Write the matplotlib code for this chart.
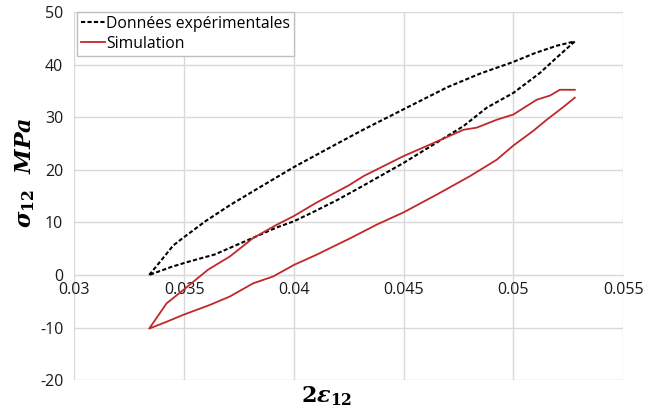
import matplotlib
matplotlib.use("Agg")
import matplotlib.pyplot as plt

# experimental loop (black dashed): upper branch then lower branch back
exp_x = [0.03341, 0.0340, 0.0345, 0.0350, 0.0360, 0.0371, 0.0383, 0.0400, 0.0419,
         0.0432, 0.0450, 0.0470, 0.0485, 0.0500, 0.0510, 0.0520, 0.0528,
         0.05197, 0.05121, 0.0500, 0.04879, 0.04773, 0.04652, 0.0450, 0.0430,
         0.0420, 0.0410, 0.0400, 0.0392, 0.0380, 0.0364, 0.0351, 0.0344, 0.03341]
exp_y = [0.0, 3.0, 5.6, 7.2, 10.3, 13.3, 16.3, 20.5, 24.8,
         27.7, 31.5, 35.7, 38.3, 40.5, 42.2, 43.6, 44.4,
         41.3, 38.4, 34.6, 31.8, 28.3, 25.2, 21.3, 16.6,
         14.3, 12.2, 10.2, 9.0, 6.8, 3.9, 2.4, 1.5, 0.0]

# simulation (red): lower branch from right end to the tip, then upper branch
sim_x = [0.0528, 0.05227, 0.05152, 0.05091, 0.0500, 0.04924, 0.04803,
         0.04652, 0.0450, 0.04379, 0.04258, 0.04101, 0.0400, 0.03905, 0.03814,
         0.03708, 0.03617, 0.03495, 0.0342, 0.03341,
         0.0342, 0.03495, 0.03609, 0.03708, 0.03814, 0.0392, 0.0400, 0.04101,
         0.04253, 0.04318, 0.0450, 0.04621, 0.04773, 0.04833, 0.04924, 0.0500,
         0.05106, 0.05167, 0.05212, 0.0528]
sim_y = [33.7, 31.9, 29.5, 27.4, 24.6, 21.9, 18.8,
         15.3, 11.9, 9.6, 7.0, 3.8, 1.9, -0.3, -1.6,
         -4.1, -5.7, -7.6, -8.9, -10.2,
         -5.4, -2.9, 1.0, 3.5, 7.0, 9.5, 11.2, 13.7,
         17.1, 18.8, 22.6, 24.8, 27.6, 28.0, 29.5, 30.5,
         33.3, 34.1, 35.2, 35.2]

x_ticks = [0.03, 0.035, 0.04, 0.045, 0.05, 0.055]
x_labels = ["0.03", "0.035", "0.04", "0.045", "0.05", "0.055"]
y_ticks = [-20, -10, 0, 10, 20, 30, 40, 50]

plt.rcParams["font.family"] = ["Open Sans", "DejaVu Sans"]
plt.rcParams["axes.unicode_minus"] = False
plt.rcParams["mathtext.fontset"] = "custom"
plt.rcParams["mathtext.it"] = "DejaVu Serif:italic:bold"
plt.rcParams["mathtext.rm"] = "DejaVu Serif:bold"
plt.rcParams["mathtext.bf"] = "DejaVu Serif:bold"

fig = plt.figure(figsize=(6.7, 4.11), dpi=100)
ax = fig.add_axes([0.111, 0.075, 0.819, 0.896])

grid_col = "#d9d9d9"
ax.plot(exp_x, exp_y, color="black", lw=1.5, linestyle=(0, (2.0, 1.1)),
        label="Données expérimentales", zorder=3)
ax.plot(sim_x, sim_y, color="#c0282a", lw=1.3, label="Simulation", zorder=3)

ax.set_xlim(0.03, 0.055)
ax.set_ylim(-20, 50)
ax.set_xticks(x_ticks)
ax.set_xticklabels(x_labels)
ax.set_yticks(y_ticks)
ax.grid(True, color=grid_col, lw=1.0)
ax.set_axisbelow(True)

for s in ["top", "right", "left"]:
    ax.spines[s].set_visible(False)
ax.spines["bottom"].set_position(("data", 0))
ax.spines["bottom"].set_color(grid_col)
ax.tick_params(length=0, labelsize=11.5, colors="#1a1a1a")
ax.tick_params(axis="x", pad=5)
ax.tick_params(axis="y", pad=8)

fig.text(0.038, 0.58, r"$\sigma_{12}\ \ MPa$", rotation=90, fontsize=16,
         ha="center", va="center")
fig.text(0.487, 0.035, r"$2\varepsilon_{12}$", fontsize=16,
         ha="center", va="center")

leg = ax.legend(loc="upper left", bbox_to_anchor=(0.005, 1.0), fontsize=11.3,
                handlelength=1.5, handletextpad=0.1, borderpad=0.25,
                labelspacing=0.25, borderaxespad=0.0, fancybox=False,
                framealpha=1.0, edgecolor="#bfbfbf")
leg.get_frame().set_linewidth(1.0)

fig.savefig("out.png", dpi=100)
